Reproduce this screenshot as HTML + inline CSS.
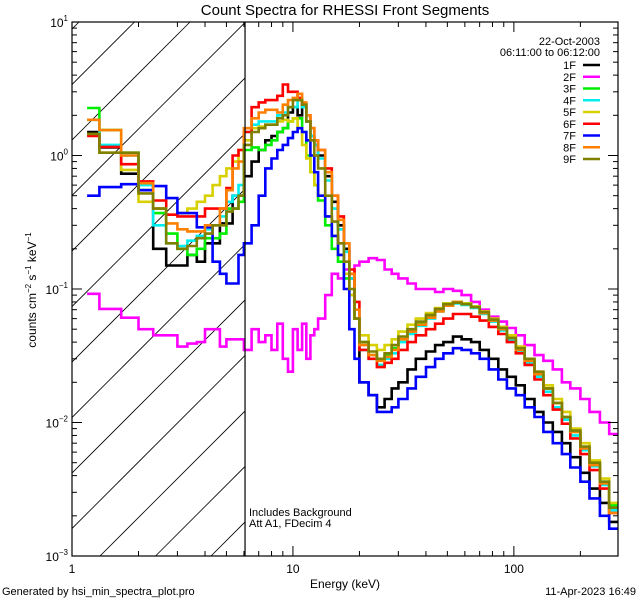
<!DOCTYPE html>
<html><head><meta charset="utf-8">
<style>
html,body{margin:0;padding:0;background:#fff;}
svg{display:block;font-family:"Liberation Sans",sans-serif;}
</style></head>
<body>
<svg id="chart" width="640" height="600" viewBox="0 0 640 600">
  <rect x="0" y="0" width="640" height="600" fill="#fff"/>
  <defs><clipPath id="plotclip"><rect x="72" y="22" width="546" height="534"/></clipPath>
  <clipPath id="hatchclip"><rect x="72" y="22" width="173" height="534"/></clipPath></defs>
  <g id="hatch" clip-path="url(#hatchclip)"></g>
  <g id="series" clip-path="url(#plotclip)"></g>
  <g id="axes"></g>
  <text x="345" y="15" font-size="15" text-anchor="middle">Count Spectra for RHESSI Front Segments</text>
  <text x="345" y="588" font-size="12" text-anchor="middle">Energy (keV)</text>
  <text transform="translate(36,290) rotate(-90)" font-size="12" text-anchor="middle">counts cm<tspan font-size="8" dy="-5">−2</tspan><tspan dy="5"> s</tspan><tspan font-size="8" dy="-5">−1</tspan><tspan dy="5"> keV</tspan><tspan font-size="8" dy="-5">−1</tspan></text>
  <text x="2" y="595" font-size="11">Generated by hsi_min_spectra_plot.pro</text>
  <text x="636" y="595" font-size="11" text-anchor="end">11-Apr-2023 16:49</text>
  <text x="249" y="516" font-size="11">Includes Background</text>
  <text x="249" y="527" font-size="11">Att A1, FDecim 4</text>
  <text x="600" y="45" font-size="11" text-anchor="end">22-Oct-2003</text>
  <text x="600" y="56" font-size="11" text-anchor="end">06:11:00 to 06:12:00</text>
  <g id="legend"></g>
</svg>
<script>
const edges = [1.17,1.33,1.67,2,2.33,2.67,3,3.33,3.67,4,4.33,4.67,5,5.33,5.67,6,6.5,7,7.5,8,8.5,9,9.5,10,10.5,11,11.5,12,12.5,13,14,15,16,17,18,19,20,22,24,26,28,30,33,36,40,44,48,53,58,64,70,77,85,93,102,112,124,136,150,165,180,200,220,245,270,296];
const names = ["1F","2F","3F","4F","5F","6F","7F","8F","9F"];
const colors = ["#000000","#ff00ff","#00ee00","#00eeee","#d8d000","#ff0000","#0000ff","#ff8000","#808000"];
const s1 = [1.5,1.15,0.73,0.55,0.2,0.15,0.15,0.18,0.16,0.22,0.22,0.31,0.31,0.5,0.5, 0.7,0.9,1.1,1.3,1.4,1.5,1.6,2.1,2.3,2.0,2.4,1.8,1.4,1.2, 1.0,0.7,0.45,0.3,0.2,0.12,0.06, 0.02,0.016,0.013,0.015,0.018, 0.02,0.025,0.03,0.034,0.038,0.04,0.044,0.042,0.04, 0.035,0.03,0.025,0.022,0.019,0.015,0.012,0.01, 0.0085,0.007,0.0055,0.0042,0.0032,0.0025,0.0018];
const s2 = [0.092,0.071,0.061,0.05,0.045,0.045,0.037,0.039,0.04,0.05,0.05,0.037,0.042,0.042,0.042, 0.035,0.05,0.04,0.045,0.035,0.055,0.03,0.024,0.05,0.035,0.055,0.03,0.045,0.05, 0.06,0.09,0.13,0.12,0.14,0.13,0.15, 0.16,0.17,0.165,0.14,0.13, 0.12,0.11,0.1,0.1,0.095,0.1,0.097,0.09,0.08, 0.07,0.062,0.057,0.051,0.045,0.038,0.032,0.029, 0.025,0.02,0.018,0.015,0.012,0.01,0.0082];
const s3 = [2.27,1.55,1.05,0.55,0.37,0.26,0.2,0.18,0.2,0.24,0.24,0.26,0.4,0.4,0.45, 1.1,1.15,1.1,1.2,1.3,1.5,1.6,1.8,1.9,1.9,1.5,1.0,0.75,0.6, 0.46,0.3,0.2,0.16,0.12,0.09,0.06, 0.04,0.032,0.03,0.032,0.036, 0.042,0.048,0.055,0.062,0.07,0.078,0.08,0.078,0.074, 0.066,0.058,0.05,0.042,0.035,0.029,0.023,0.018, 0.014,0.011,0.0085,0.0065,0.005,0.0036,0.0024];
const s4 = [1.85,1.2,1.0,0.6,0.3,0.22,0.21,0.23,0.25,0.28,0.3,0.35,0.45,0.5,0.6, 1.5,1.7,1.8,1.8,1.8,2.0,2.1,2.3,2.3,2.6,2.3,1.8,1.4,1.2, 0.95,0.65,0.4,0.28,0.19,0.12,0.07, 0.035,0.03,0.027,0.03,0.033, 0.04,0.046,0.053,0.06,0.068,0.075,0.078,0.076,0.072, 0.065,0.057,0.049,0.041,0.034,0.028,0.022,0.017, 0.013,0.0105,0.008,0.0062,0.0047,0.0034,0.0022];
const s5 = [1.45,1.05,0.78,0.45,0.4,0.36,0.37,0.4,0.45,0.5,0.6,0.7,0.8,0.9,1.1, 1.3,1.6,1.65,1.7,1.7,1.8,1.85,1.8,1.9,1.6,1.2,0.95,0.75,0.6, 0.5,0.35,0.25,0.18,0.13,0.09,0.06, 0.045,0.038,0.035,0.038,0.042, 0.048,0.054,0.06,0.066,0.072,0.078,0.08,0.078,0.074, 0.068,0.06,0.052,0.045,0.037,0.03,0.024,0.019, 0.015,0.012,0.009,0.007,0.0052,0.0038,0.0025];
const s6 = [1.4,1.16,0.86,0.64,0.46,0.36,0.35,0.35,0.35,0.4,0.4,0.4,0.57,1.0,1.1, 1.5,2.3,2.5,2.6,2.6,2.8,3.4,3.0,3.0,2.7,2.4,2.0,1.6,1.3, 1.1,0.8,0.5,0.35,0.22,0.14,0.08, 0.035,0.03,0.026,0.028,0.03, 0.035,0.04,0.045,0.05,0.055,0.06,0.065,0.065,0.062, 0.058,0.052,0.046,0.04,0.033,0.027,0.021,0.016, 0.0125,0.0098,0.0076,0.0058,0.0044,0.0032,0.0021];
const s7 = [0.5,0.58,0.61,0.55,0.59,0.48,0.37,0.37,0.29,0.29,0.16,0.13,0.11,0.11,0.18, 0.22,0.3,0.5,0.8,0.95,1.1,1.2,1.35,1.5,1.6,1.5,1.3,1.0,0.75, 0.5,0.35,0.25,0.18,0.1,0.05,0.03, 0.02,0.016,0.012,0.012,0.013, 0.015,0.018,0.022,0.026,0.03,0.033,0.036,0.035,0.033, 0.03,0.025,0.021,0.018,0.016,0.013,0.011,0.0085, 0.007,0.0058,0.0046,0.0036,0.0027,0.002,0.0016];
const s8 = [1.85,1.55,1.0,0.62,0.4,0.31,0.28,0.27,0.27,0.3,0.3,0.4,0.55,0.8,0.9, 1.6,1.9,2.1,2.2,2.2,2.1,2.4,2.6,2.7,2.9,2.5,2.0,1.6,1.3, 1.1,0.75,0.5,0.33,0.22,0.13,0.07, 0.038,0.032,0.029,0.031,0.035, 0.042,0.048,0.054,0.061,0.068,0.075,0.08,0.077,0.073, 0.066,0.058,0.05,0.043,0.035,0.029,0.023,0.018, 0.014,0.011,0.0085,0.0064,0.0048,0.0035,0.0021];
const s9 = [1.45,1.05,1.05,0.52,0.4,0.22,0.2,0.21,0.24,0.26,0.3,0.3,0.38,0.4,0.5, 1.2,1.5,1.6,1.7,1.7,1.9,2.0,2.3,2.6,2.6,2.4,1.8,1.3,1.0, 0.8,0.5,0.32,0.22,0.16,0.1,0.06, 0.04,0.034,0.03,0.033,0.038, 0.044,0.05,0.057,0.064,0.071,0.077,0.079,0.077,0.073, 0.067,0.059,0.051,0.043,0.036,0.03,0.024,0.018, 0.014,0.011,0.0087,0.0066,0.005,0.0036,0.0023];
const seriesVals = [s1,s2,s3,s4,s5,s6,s7,s8,s9];
const xTickVals = [1,10,100];
const xTickLabels = ["1","10","100"];
const yTickExps = [1,0,-1,-2,-3];

const X0=72, X1=618, Y0=22, Y1=556;
const XMIN=1, XMAX=296, YMIN=1e-3, YMAX=10;
const NS="http://www.w3.org/2000/svg";
function xs(e){return X0+(Math.log10(e)-Math.log10(XMIN))/(Math.log10(XMAX)-Math.log10(XMIN))*(X1-X0);}
function ys(v){return Y1-(Math.log10(v)-Math.log10(YMIN))/(Math.log10(YMAX)-Math.log10(YMIN))*(Y1-Y0);}
function mk(tag,attrs,parent){const el=document.createElementNS(NS,tag);for(const k in attrs)el.setAttribute(k,attrs[k]);parent.appendChild(el);return el;}

// hatching
const hatch=document.getElementById('hatch');
for(let c=656-55.5*12;c<1400;c+=55.5){
  const l=mk('line',{x1:c-556,y1:556,x2:c-22+0,y2:22-0,stroke:'#000','stroke-width':0.8},hatch);
  l.setAttribute('x2',c-22);
  
  
}

// series
const sg=document.getElementById('series');
seriesVals.forEach((vals,si)=>{
  let d='';
  for(let i=0;i<vals.length;i++){
    const xa=xs(edges[i]).toFixed(1), xb=xs(edges[i+1]).toFixed(1), y=ys(vals[i]).toFixed(1);
    d+=(i===0?'M':'L')+xa+','+y+'L'+xb+','+y;
  }
  const p=mk('path',{d:d,fill:'none',stroke:colors[si],'stroke-width':2.6,'stroke-linejoin':'miter'},sg);
  
  
});

// axes
const ax=document.getElementById('axes');
const frame=mk('rect',{x:X0,y:Y0,width:X1-X0,height:Y1-Y0,fill:'none',stroke:'#000','stroke-width':1.2},ax);


const vline=mk('line',{x1:xs(6.07),y1:Y0,x2:xs(6.07),y2:Y1,stroke:'#000','stroke-width':1.2},ax);


for(let dec=1;dec<=100;dec*=10){
  for(let m=1;m<=9;m++){
    const e=dec*m; if(e>XMAX) break;
    const x=xs(e), len=(m===1)?10:5;
    const t1=mk('line',{x1:x,y1:Y1,x2:x,y2:Y1-len,stroke:'#000'},ax);
    
    
    const t2=mk('line',{x1:x,y1:Y0,x2:x,y2:Y0+len,stroke:'#000'},ax);
    
    
  }
}
xTickVals.forEach((v,i)=>{
  const t=mk('text',{x:xs(v),y:Y1+17,'font-size':12,'text-anchor':'middle'},ax);
  t.textContent=xTickLabels[i];
  
  
});
for(let ex=-3;ex<=0;ex++){
  for(let m=1;m<=9;m++){
    const y=ys(m*Math.pow(10,ex)), len=(m===1)?10:5;
    const t1=mk('line',{x1:X0,y1:y,x2:X0+len,y2:y,stroke:'#000'},ax);
    
    
    const t2=mk('line',{x1:X1,y1:y,x2:X1-len,y2:y,stroke:'#000'},ax);
    
    
  }
}
yTickExps.forEach(ex=>{
  const y=ys(Math.pow(10,ex));
  const t=mk('text',{x:X0-4,y:y+5,'font-size':12,'text-anchor':'end'},ax);
  t.innerHTML='10<tspan font-size="8" dy="-6">'+(ex<0?'−'+(-ex):ex)+'</tspan>';
  
  
});

// legend
const lg=document.getElementById('legend');
names.forEach((n,i)=>{
  const y=65+i*11.75;
  const t=mk('text',{x:576,y:y+4,'font-size':11,'text-anchor':'end'},lg);
  t.textContent=n;
  
  
  const l=mk('line',{x1:583,y1:y,x2:600,y2:y,stroke:colors[i],'stroke-width':2.5},lg);
  
  
});
</script>
</body></html>
